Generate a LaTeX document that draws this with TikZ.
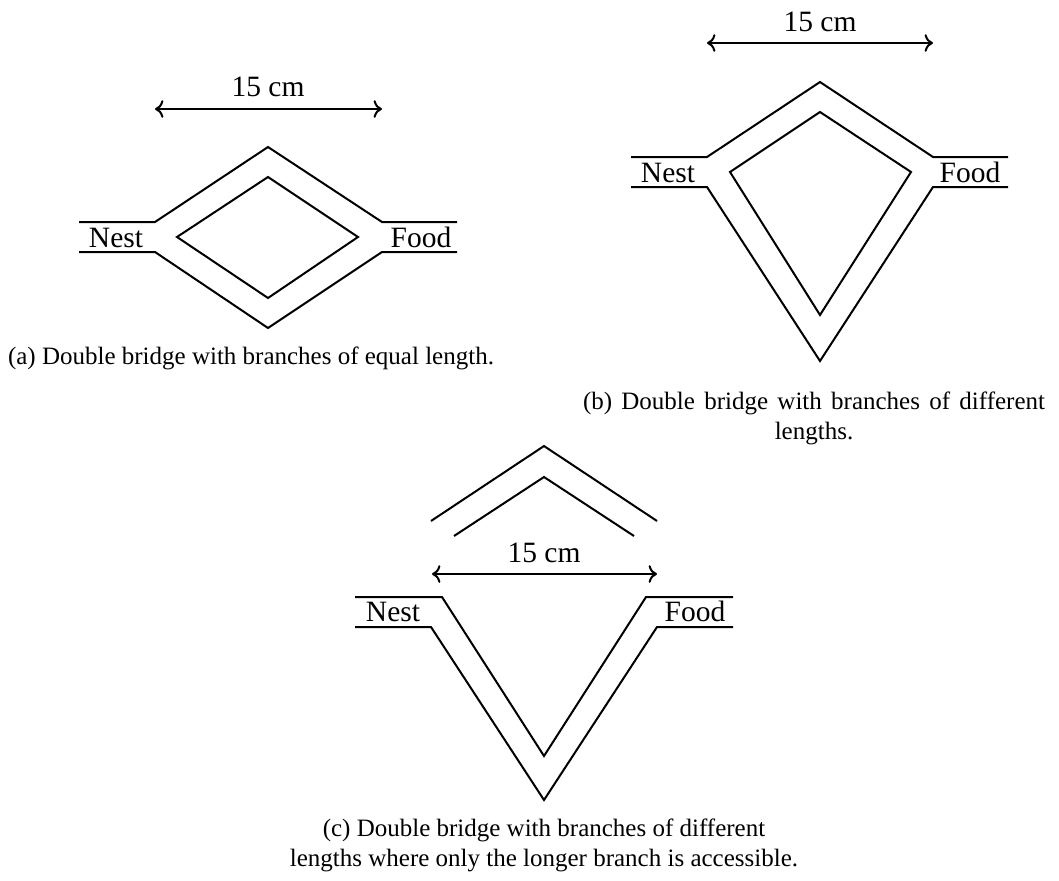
\documentclass[tikz,border=0pt]{standalone}
\usepackage{fontspec}
\setmainfont{Liberation Serif}
\usepackage{tikz}
\usetikzlibrary{arrows.meta, positioning}
\tikzset{
  wall/.style={thick, line join=miter},
  dimarrow/.style={<->, thick},
  place/.style={font=\fontsize{11.8}{14}\selectfont, inner sep=0pt, anchor=base},
  caption/.style={font=\fontsize{10}{12}\selectfont, align=center, inner sep=0pt, anchor=base}
}

\begin{document}
\begin{tikzpicture}[x=0.4pt, y=-0.4pt]
  \useasboundingbox (0,0) rectangle (1059,880);

  % (a) equal branches
  \coordinate (dimL_a) at (155,109);
  \coordinate (dimR_a) at (382,109);
  \draw[dimarrow] (dimL_a) -- (dimR_a);
  \node[place] (len_a) at (268,96) {15 cm};
  \draw[wall] (79,222) -- (155,222) -- (268,147) -- (382,222) -- (457,222);
  \draw[wall] (79,252) -- (155,252) -- (268,328) -- (382,252) -- (457,252);
  \draw[wall] (177,237) -- (268,177) -- (358,237) -- (268,298) -- cycle;
  \node[place] (nest_a) at (116,247) {Nest};
  \node[place] (food_a) at (421,247) {Food};
  \node[caption] (cap_a) at (251,364)
    {(a) Double bridge with branches of equal length.};

  % (b) different lengths
  \coordinate (dimL_b) at (707,43);
  \coordinate (dimR_b) at (933,43);
  \draw[dimarrow] (dimL_b) -- (dimR_b);
  \node[place] (len_b) at (820,31) {15 cm};
  \draw[wall] (631,157) -- (707,157) -- (820,82) -- (933,157) -- (1008,157);
  \draw[wall] (631,187) -- (707,187) -- (820,361) -- (933,187) -- (1008,187);
  \draw[wall] (730,172) -- (820,112) -- (911,172) -- (820,315) -- cycle;
  \node[place] (nest_b) at (668,182) {Nest};
  \node[place] (food_b) at (970,182) {Food};
  \node[caption] (cap_b) at (814,439)
    {\makebox[184.8pt][s]{(b) Double bridge with branches of different}\\lengths.};

  % (c) only the longer branch
  \draw[wall] (431,521) -- (544,446) -- (657,521);
  \draw[wall] (454,536) -- (544,477) -- (634,536);
  \coordinate (dimL_c) at (432,574);
  \coordinate (dimR_c) at (657,574);
  \draw[dimarrow] (dimL_c) -- (dimR_c);
  \node[place] (len_c) at (544,562) {15 cm};
  \draw[wall] (355,597) -- (442,597) -- (544,756) -- (646,597) -- (733,597);
  \draw[wall] (355,627) -- (431,627) -- (544,800) -- (657,627) -- (733,627);
  \node[place] (nest_c) at (393,621) {Nest};
  \node[place] (food_c) at (695,621) {Food};
  \node[caption] (cap_c) at (544,866)
    {(c) Double bridge with branches of different\\lengths where only the longer branch is accessible.};
\end{tikzpicture}
\end{document}
